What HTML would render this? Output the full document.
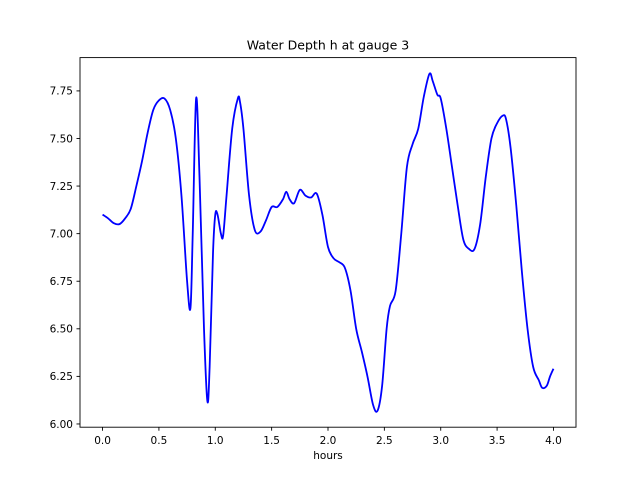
<!DOCTYPE html>
<html><head><meta charset="utf-8"><style>
body{margin:0;background:#fff;}
svg{display:block;font-family:"DejaVu Sans","Liberation Sans",sans-serif;}
</style></head><body>
<svg id="chart" width="640" height="480"></svg>
<script>
const times=[0,0.05,0.1,0.15,0.2,0.25,0.3,0.35,0.4,0.45,0.5,0.55,0.6,0.65,0.7,0.75,0.78,0.8,0.83,0.86,0.9,0.93,0.95,0.98,1.0,1.02,1.05,1.07,1.1,1.15,1.2,1.22,1.25,1.3,1.35,1.4,1.45,1.5,1.55,1.6,1.63,1.66,1.7,1.75,1.8,1.85,1.9,1.95,2.0,2.05,2.1,2.15,2.2,2.25,2.3,2.35,2.4,2.44,2.48,2.52,2.55,2.6,2.65,2.7,2.75,2.8,2.85,2.9,2.93,2.97,3.0,3.05,3.1,3.15,3.2,3.25,3.3,3.35,3.4,3.45,3.5,3.55,3.58,3.62,3.67,3.72,3.77,3.82,3.87,3.9,3.94,3.97,4.0];
const depths=[7.10,7.08,7.055,7.05,7.08,7.13,7.25,7.38,7.53,7.65,7.70,7.71,7.65,7.50,7.20,6.75,6.61,7.0,7.71,7.3,6.5,6.12,6.3,6.9,7.10,7.10,7.0,6.99,7.2,7.55,7.71,7.69,7.55,7.2,7.02,7.01,7.07,7.14,7.14,7.18,7.22,7.18,7.16,7.23,7.2,7.19,7.21,7.1,6.93,6.87,6.85,6.82,6.7,6.5,6.38,6.25,6.1,6.07,6.2,6.5,6.62,6.7,7.0,7.35,7.47,7.55,7.72,7.84,7.8,7.73,7.71,7.55,7.35,7.15,6.97,6.92,6.92,7.05,7.3,7.5,7.58,7.62,7.6,7.45,7.15,6.8,6.5,6.3,6.23,6.19,6.2,6.25,6.29];
const xTicks=[0,0.5,1,1.5,2,2.5,3,3.5,4];
const xTickLabels=["0.0","0.5","1.0","1.5","2.0","2.5","3.0","3.5","4.0"];
const yTicks=[6,6.25,6.5,6.75,7,7.25,7.5,7.75];
const yTickLabels=["6.00","6.25","6.50","6.75","7.00","7.25","7.50","7.75"];

const L=80,R=576,T=57.6,B=427.2;
const x0=-0.2,x1=4.2,y0=5.983,y1=7.925;
const X=v=>L+(v-x0)/(x1-x0)*(R-L);
const Y=v=>B-(v-y0)/(y1-y0)*(B-T);
const svg=document.getElementById('chart');
const NS='http://www.w3.org/2000/svg';
function mk(tag,attrs,parent){const e=document.createElementNS(NS,tag);for(const k in attrs)e.setAttribute(k,attrs[k]);(parent||svg).appendChild(e);return e;}

const P=times.map((t,i)=>[X(t),Y(depths[i])]);
let d='M'+P[0][0].toFixed(2)+','+P[0][1].toFixed(2);
for(let i=0;i<P.length-1;i++){
  const p0=P[Math.max(0,i-1)],p1=P[i],p2=P[i+1],p3=P[Math.min(P.length-1,i+2)];
  const c1=[p1[0]+(p2[0]-p0[0])/6,p1[1]+(p2[1]-p0[1])/6];
  const c2=[p2[0]-(p3[0]-p1[0])/6,p2[1]-(p3[1]-p1[1])/6];
  d+='C'+c1[0].toFixed(2)+','+c1[1].toFixed(2)+' '+c2[0].toFixed(2)+','+c2[1].toFixed(2)+' '+p2[0].toFixed(2)+','+p2[1].toFixed(2);
}
const line=mk('path',{d:d,fill:'none',stroke:'#0000ff','stroke-width':1.8,'stroke-linejoin':'round'});



const frame=mk('rect',{x:L,y:T,width:R-L,height:B-T,fill:'none',stroke:'#000','stroke-width':0.9});



xTicks.forEach((v,i)=>{
  const tk=mk('line',{x1:X(v),x2:X(v),y1:B,y2:B+3.5,stroke:'#000','stroke-width':0.9});
  
  
  const tx=mk('text',{x:X(v),y:B+17,'font-size':10.5,'text-anchor':'middle',fill:'#000'});
  tx.textContent=xTickLabels[i];
  
  
});
yTicks.forEach((v,i)=>{
  const tk=mk('line',{x1:L-3.5,x2:L,y1:Y(v),y2:Y(v),stroke:'#000','stroke-width':0.9});
  
  
  const tx=mk('text',{x:L-7,y:Y(v)+3.8,'font-size':10.5,'text-anchor':'end',fill:'#000'});
  tx.textContent=yTickLabels[i];
  
  
});
const xt=mk('text',{x:(L+R)/2,y:B+32,'font-size':10.5,'text-anchor':'middle',fill:'#000'});
xt.textContent='hours';


const tt=mk('text',{x:(L+R)/2,y:T-8,'font-size':12.5,'text-anchor':'middle',fill:'#000'});
tt.textContent='Water Depth h at gauge 3';


</script>
</body></html>
